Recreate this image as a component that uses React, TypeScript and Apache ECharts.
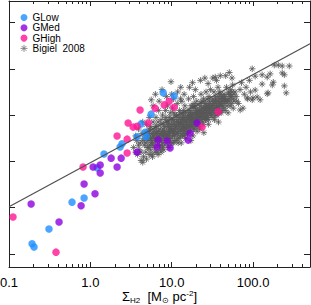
import React, { useEffect, useRef } from "react";
import * as echarts from "echarts";

const FONT = "'Liberation Sans', Arial, Helvetica, sans-serif";

// Sigma_H2 [Msun pc^-2], log Sigma_SFR (arbitrary tick units)
const gLow: [number, number][] = [
  [7.84, 3.48], [10.7, 3.41], [5.58, 3.02], [4.2, 2.81], [4.71, 2.63], [4.84, 2.53],
  [3.75, 2.53], [2.45, 2.38], [2.32, 2.31], [1.47, 2.16], [1.21, 1.86], [0.837, 1.21],
  [0.595, 1.12], [0.31, 0.54], [0.192, 0.22], [0.203, 0.15],
];

const gMed: [number, number][] = [
  [3.75, 2.2], [1.8, 2.07], [2.39, 2.07], [1.08, 1.88], [1.32, 1.92], [2.13, 1.88],
  [1.32, 1.75], [0.837, 1.51], [1.14, 1.3], [0.769, 1.04], [0.187, 1.08], [0.412, 0.69],
  [6.8, 2.46], [6.61, 2.31], [8.78, 2.44], [9.55, 2.29], [20.5, 2.83], [16.8, 2.61],
  [15.9, 2.46],
];

const gHigh: [number, number][] = [
  [4.08, 3.11], [6.25, 3.15], [8.07, 3.22], [9.29, 3.3], [10.7, 3.17], [2.91, 2.83],
  [3.35, 2.74], [3.75, 2.76], [5.13, 2.83], [2.13, 2.55], [2.83, 2.48], [2.83, 2.18],
  [0.813, 1.88], [0.112, 0.8], [0.378, 0.04], [37.2, 3.07], [23.6, 2.74],
];

// Bigiel et al. 2008 pixels: outer / sparse part of the cloud
const bigielOuter: [number, number][] = [
  [3.4, 2.3], [3.6, 2.55], [3.8, 2.15], [3.9, 2.7], [4.1, 2.4], [4.2, 2.02], [4.3, 2.6], [4.4, 2.85], [3.7, 2.45], [4.0, 2.25],
  [4.6, 2.35], [4.7, 2.6], [4.8, 2.2], [4.9, 2.8], [5.0, 2.45], [5.1, 2.65], [5.2, 2.3], [5.3, 2.95], [5.4, 2.5], [5.5, 2.75],
  [5.6, 2.4], [5.7, 2.15], [5.8, 2.6], [5.9, 2.85], [5.6, 3.33], [5.9, 3.2],
  [6.1, 2.5], [6.2, 2.3], [6.3, 2.75], [6.4, 2.95], [6.5, 2.6], [6.6, 2.2], [6.7, 2.45], [6.8, 2.85], [6.9, 3.1], [7.0, 2.55],
  [7.1, 2.35], [7.2, 2.7], [7.3, 2.25], [7.4, 2.9], [7.5, 2.6], [7.7, 3.0], [7.8, 2.4], [7.9, 2.8], [6.3, 3.45], [7.0, 3.3], [7.6, 3.55],
  [8.1, 2.65], [8.2, 2.35], [8.3, 2.9], [8.4, 3.1], [8.5, 2.55], [8.7, 2.75], [8.8, 2.45], [8.9, 3.2], [9.0, 2.85], [9.1, 2.6],
  [9.3, 2.3], [9.4, 2.95], [9.5, 2.7], [9.6, 3.05], [9.8, 2.5], [9.9, 2.8], [10.1, 2.4], [10.2, 3.15], [10.4, 2.65], [10.6, 2.9],
  [10.8, 2.55], [10.9, 3.0], [8.6, 3.4], [9.8, 3.72], [10.0, 3.45], [10.5, 3.35],
  [11.1, 2.75], [11.3, 2.45], [11.5, 3.0], [11.7, 3.25], [11.9, 2.6], [12.1, 2.85], [12.3, 2.5], [12.5, 3.1], [12.7, 2.95], [12.9, 2.7],
  [13.1, 2.4], [13.3, 3.3], [13.5, 2.8], [13.7, 2.55], [13.9, 3.05], [14.1, 2.9], [14.3, 2.65], [14.5, 3.2], [14.7, 2.75], [14.9, 2.5],
  [11.6, 2.9], [12.8, 3.35], [13.8, 2.95], [14.4, 2.6], [11.8, 3.5], [12.9, 3.6], [14.2, 3.45],
  [15.2, 2.85], [15.5, 2.6], [15.8, 3.1], [16.1, 3.35], [16.4, 2.75], [16.7, 2.95], [17.0, 2.65], [17.3, 3.2], [17.6, 3.05], [17.9, 2.8],
  [18.2, 2.55], [18.5, 3.4], [18.8, 2.9], [19.1, 2.7], [19.4, 3.15], [19.7, 3.0], [20.0, 2.75], [20.3, 3.3], [20.6, 2.85], [20.9, 3.05],
  [16.0, 3.0], [17.5, 2.9], [18.9, 3.25], [20.5, 2.65], [16.5, 3.6], [18.0, 3.7], [19.5, 3.55], [17.2, 2.45],
  [21.3, 2.95], [21.8, 2.75], [22.4, 3.25], [22.9, 3.45], [23.5, 3.05], [24.0, 2.85], [24.6, 3.35], [25.2, 3.15], [25.8, 2.9], [26.4, 3.5],
  [27.0, 3.0], [27.6, 3.2], [28.2, 2.8], [28.8, 3.4], [29.4, 3.1], [29.9, 3.55], [22.0, 3.1], [23.1, 2.9], [24.4, 3.15], [26.0, 3.25],
  [27.3, 2.95], [29.0, 3.3], [22.5, 3.75], [25.5, 3.8], [28.0, 3.68], [24.8, 2.62],
  [30.5, 3.05], [31.3, 3.3], [32.2, 2.95], [33.1, 3.5], [34.0, 3.15], [35.0, 3.4], [36.0, 3.0], [37.0, 3.6], [38.0, 3.25], [39.0, 3.1],
  [40.0, 3.45], [41.0, 3.3], [31.8, 3.2], [34.5, 3.35], [36.8, 3.15], [38.5, 3.5], [40.5, 3.05], [33.5, 2.9], [32.0, 3.8], [35.5, 3.75],
  [39.5, 3.85], [37.5, 2.85], [34.2, 3.82],
  [42.5, 3.2], [44.0, 3.45], [45.5, 3.1], [47.0, 3.6], [48.5, 3.3], [50.0, 3.5], [52.0, 3.2], [54.0, 3.4], [56.0, 3.65], [58.0, 3.3],
  [44.8, 3.35], [49.2, 3.05], [53.0, 3.55], [57.0, 3.15], [46.0, 3.85], [51.0, 3.92], [55.0, 3.8],
  [62, 3.4], [66, 3.25], [69, 3.55], [72, 3.7], [75, 3.15], [78, 3.45], [82, 3.6], [86, 3.35], [90, 3.75], [93, 3.5], [69.3, 3.11],
  [97.5, 4.0], [182, 4.08], [204, 4.08], [228, 4.06], [278, 4.06], [228, 3.91], [242, 3.87], [162, 3.89], [149, 3.82], [129, 3.87],
  [106, 3.84], [177, 3.71], [129, 3.67], [172, 3.65], [242, 3.63], [255, 3.48], [153, 3.48], [149, 3.46], [106, 3.54], [112, 3.39],
  [97.5, 3.33], [84.5, 3.37], [122, 3.33], [99.6, 3.37],
];

// Bigiel et al. 2008 pixels: dense core of the cloud
const bigielCore: [number, number][] = [
  [4.6, 2.5], [4.8, 2.4], [5.0, 2.6], [5.2, 2.5], [5.4, 2.35], [5.5, 2.6], [5.7, 2.5], [5.9, 2.7], [5.0, 2.3], [5.3, 2.7],
  [6.0, 2.4], [6.2, 2.6], [6.4, 2.5], [6.5, 2.75], [6.7, 2.35], [6.9, 2.65], [7.1, 2.5], [7.3, 2.8], [7.5, 2.45], [7.7, 2.65],
  [7.9, 2.55], [6.8, 2.55], [7.4, 2.35], [6.1, 2.65],
  [8.0, 2.5], [8.2, 2.75], [8.4, 2.6], [8.6, 2.45], [8.8, 2.85], [9.0, 2.55], [9.2, 2.75], [9.4, 2.5], [9.7, 2.65], [9.9, 2.9],
  [10.2, 2.55], [10.4, 2.8], [10.7, 2.7], [10.9, 2.45], [8.5, 2.95], [9.6, 2.4], [10.0, 2.7], [10.6, 3.05],
  [11.2, 2.6], [11.4, 2.85], [11.7, 2.7], [12.0, 2.95], [12.2, 2.65], [12.5, 2.8], [12.8, 2.55], [13.0, 2.9], [13.3, 2.7], [13.6, 3.0],
  [13.9, 2.75], [14.2, 2.55], [14.6, 2.85], [14.8, 3.05], [11.9, 2.5], [12.6, 3.05], [13.4, 2.6], [14.0, 3.1], [14.5, 2.7],
  [15.1, 2.75], [15.4, 2.95], [15.7, 2.8], [16.0, 2.65], [16.3, 3.05], [16.6, 2.85], [16.9, 3.1], [17.2, 2.75], [17.6, 2.95], [17.9, 3.2],
  [18.3, 2.85], [18.7, 3.05], [19.0, 2.8], [19.4, 2.95], [19.8, 3.2], [20.2, 2.9], [20.6, 3.1], [20.9, 2.8], [15.6, 2.6], [17.0, 3.0],
  [18.5, 2.7], [19.6, 3.05], [16.2, 2.9],
  [21.2, 3.05], [21.7, 2.85], [22.2, 3.2], [22.7, 2.95], [23.2, 3.15], [23.8, 3.0], [24.3, 2.8], [24.9, 3.25], [25.5, 3.05], [26.1, 2.9],
  [26.7, 3.15], [27.3, 3.35], [27.9, 3.05], [28.5, 2.9], [29.1, 3.2], [29.7, 3.0], [22.0, 2.7], [25.0, 2.95], [27.0, 3.1], [28.9, 3.05],
  [23.5, 3.3],
  [30.2, 3.15], [31.0, 3.0], [31.9, 3.35], [32.8, 3.1], [33.8, 3.25], [34.8, 3.0], [35.8, 3.3], [36.9, 3.2], [38.0, 3.05], [39.2, 3.35],
  [40.4, 3.2], [41.6, 3.1], [42.8, 3.4], [44.0, 3.25], [35.2, 3.15], [37.6, 3.4], [43.5, 3.15],
  [46, 3.3], [48, 3.2], [50, 3.35], [52, 3.45], [54, 3.25], [57, 3.35], [60, 3.5], [63, 3.3],
];

// Bigiel et al. 2008 pixels: densest ridge of the cloud
const bigielRidge: [number, number][] = [
  [5.1, 2.55], [5.6, 2.45], [6.0, 2.55], [6.3, 2.45], [6.6, 2.65], [7.0, 2.45], [7.2, 2.6], [7.6, 2.55], [7.8, 2.7], [5.8, 2.35],
  [8.1, 2.6], [8.3, 2.5], [8.7, 2.65], [8.9, 2.55], [9.1, 2.8], [9.3, 2.65], [9.5, 2.6], [9.8, 2.75], [10.1, 2.65], [10.3, 2.9],
  [10.5, 2.6], [10.8, 2.8],
  [11.0, 2.65], [11.3, 2.75], [11.6, 2.6], [11.9, 2.8], [12.3, 2.75], [12.7, 2.85], [13.0, 2.65], [13.2, 2.8], [13.5, 2.9], [13.8, 2.7],
  [14.1, 2.8], [14.4, 2.95], [14.8, 2.7],
  [15.0, 2.9], [15.3, 2.7], [15.8, 2.95], [16.2, 2.75], [16.5, 2.95], [16.8, 2.8], [17.3, 2.9], [17.7, 2.75], [18.1, 3.0], [18.4, 2.95],
  [18.8, 3.15], [19.2, 2.9], [19.7, 2.85], [20.1, 3.05], [20.4, 2.95], [20.8, 2.95],
  [21.5, 3.1], [21.9, 2.95], [22.4, 3.05], [23.0, 3.05], [23.6, 2.95], [24.1, 3.1], [24.7, 3.05], [25.3, 2.95], [25.9, 3.15], [26.5, 3.05],
  [27.1, 3.2], [27.7, 2.95], [28.3, 3.15], [28.9, 3.25], [29.5, 3.1],
  [30.8, 3.2], [31.6, 3.1], [32.5, 3.25], [33.4, 3.05], [34.3, 3.3], [35.4, 3.2], [36.4, 3.1], [37.4, 3.3], [38.6, 3.2], [39.8, 3.25],
  [41.0, 3.4], [42.2, 3.3], [43.8, 3.35],
  [45, 3.4], [47, 3.3], [49, 3.45], [51, 3.3], [53, 3.4], [55, 3.5], [58, 3.45],
];

// Bigiel et al. 2008 pixels: low lower-left edge of the cloud
const bigielLowEdge: [number, number][] = [
  [4.5, 2.1], [4.9, 2.05], [5.3, 2.15], [5.8, 2.1], [6.2, 2.2], [6.8, 2.15], [7.4, 2.2], [4.2, 2.2], [3.9, 2.35],
  [4.4, 2.45], [3.6, 2.2], [5.5, 2.25], [8.0, 2.25], [9.0, 2.35], [7.7, 2.3], [10.4, 2.4], [12.0, 2.4], [4.4, 1.98],
];

const bigiel2008: [number, number][] = [...bigielOuter, ...bigielCore, ...bigielRidge, ...bigielLowEdge];

const fitLine: [number, number][] = [[0.1, 1.02], [500, 4.54]];

const xMin = 0.1;
const xMax = 500;
const yMin = -0.281;
const yMax = 5.464;
const majorXTicks = [0.1, 1, 10, 100];
const minorXTicks = [
  0.2, 0.3, 0.4, 0.5, 0.6, 0.7, 0.8, 0.9,
  2, 3, 4, 5, 6, 7, 8, 9,
  20, 30, 40, 50, 60, 70, 80, 90,
  200, 300, 400,
];
const yTicks = [0, 1, 2, 3, 4, 5];

const ASTERISK = "path://M5 0V10M0 5H10M1.5 1.5L8.5 8.5M8.5 1.5L1.5 8.5";
const AXIS_COLOR = "#222";
const CLOUD = "#575757";

export default function App() {
  const ref = useRef<HTMLDivElement>(null);
  useEffect(() => {
    if (!ref.current) return;
    const chart = echarts.init(ref.current, undefined, { renderer: "svg" });
    const logMin = Math.log10(xMin);
    const logMax = Math.log10(xMax);
    const hiddenAxisBase = {
      type: "value",
      min: logMin,
      max: logMax,
      axisLabel: { show: false },
      splitLine: { show: false },
    };
    chart.setOption({
      animation: false,
      backgroundColor: "#fff",
      grid: { left: 9, right: 1, top: 1, bottom: 38, containLabel: false, outerBoundsMode: "none" },
      legend: {
        orient: "vertical",
        left: 20,
        top: 12.5,
        padding: 0,
        itemWidth: 7,
        itemHeight: 7,
        itemGap: 0.3,
        textStyle: { fontSize: 10, color: "#000", fontFamily: FONT, lineHeight: 9 },
        data: [
          { name: "GLow", icon: "circle" },
          { name: "GMed", icon: "circle" },
          { name: "GHigh", icon: "circle" },
          {
            name: "Bigiel  2008",
            icon: ASTERISK,
            itemStyle: { color: "rgba(0,0,0,0)", borderColor: "#707070", borderWidth: 1 },
          },
        ],
      },
      xAxis: [
        {
          type: "log",
          logBase: 10,
          min: xMin,
          max: xMax,
          position: "bottom",
          axisLine: { show: true, onZero: false, lineStyle: { color: AXIS_COLOR, width: 1 } },
          axisTick: { show: true, inside: true, length: 5, lineStyle: { color: AXIS_COLOR } },
          axisLabel: {
            show: true,
            margin: 9,
            fontSize: 13,
            color: "#000",
            fontFamily: FONT,
            showMaxLabel: false,
            formatter: (v: number) => {
              const l = Math.log10(v);
              if (Math.abs(l - Math.round(l)) > 1e-6) return "";
              return Math.pow(10, Math.round(l)).toFixed(1);
            },
          },
          splitLine: { show: false },
          name: "{s|Σ}{sub|H2}{s|  [M}{sub|⊙}{s| pc}{sup|-2}{s|]}",
          nameLocation: "middle",
          nameGap: 22,
          nameMoveOverlap: false,
          nameTextStyle: {
            color: "#000",
            fontFamily: FONT,
            fontSize: 13,
            verticalAlign: "top",
            rich: {
              s: { fontSize: 13, lineHeight: 15, color: "#000", fontFamily: FONT },
              sub: { fontSize: 8, lineHeight: 8, verticalAlign: "bottom", color: "#000", fontFamily: FONT },
              sup: { fontSize: 8, lineHeight: 8, verticalAlign: "top", color: "#000", fontFamily: FONT },
            },
          },
        },
        {
          ...hiddenAxisBase,
          position: "bottom",
          axisLine: { show: false, onZero: false },
          axisTick: { show: true, inside: true, length: 3, customValues: minorXTicks.map((v) => Math.log10(v)), lineStyle: { color: AXIS_COLOR } },
        },
        {
          ...hiddenAxisBase,
          position: "top",
          axisLine: { show: true, onZero: false, lineStyle: { color: AXIS_COLOR, width: 1 } },
          axisTick: { show: true, inside: true, length: 5, customValues: majorXTicks.map((v) => Math.log10(v)), lineStyle: { color: AXIS_COLOR } },
        },
        {
          ...hiddenAxisBase,
          position: "top",
          axisLine: { show: false, onZero: false },
          axisTick: { show: true, inside: true, length: 3, customValues: minorXTicks.map((v) => Math.log10(v)), lineStyle: { color: AXIS_COLOR } },
        },
      ],
      yAxis: [
        {
          type: "value",
          min: yMin,
          max: yMax,
          position: "left",
          axisLine: { show: true, onZero: false, lineStyle: { color: AXIS_COLOR, width: 1 } },
          axisTick: { show: true, inside: true, length: 6, customValues: yTicks, lineStyle: { color: AXIS_COLOR } },
          axisLabel: { show: false },
          splitLine: { show: false },
        },
        {
          type: "value",
          min: yMin,
          max: yMax,
          position: "right",
          axisLine: { show: true, onZero: false, lineStyle: { color: AXIS_COLOR, width: 1 } },
          axisTick: { show: true, inside: true, length: 6, customValues: yTicks, lineStyle: { color: AXIS_COLOR } },
          axisLabel: { show: false },
          splitLine: { show: false },
        },
      ],
      series: [
        {
          name: "Bigiel  2008",
          type: "scatter",
          xAxisIndex: 0,
          yAxisIndex: 0,
          symbol: ASTERISK,
          symbolSize: 6.5,
          itemStyle: { color: "rgba(0,0,0,0)", borderColor: CLOUD, borderWidth: 1 },
          data: bigiel2008,
          z: 2,
        },
        {
          name: "GLow",
          type: "scatter",
          xAxisIndex: 0,
          yAxisIndex: 0,
          symbol: "circle",
          symbolSize: 7.5,
          itemStyle: { color: "#1e8fff" },
          data: gLow,
          z: 3,
        },
        {
          name: "GMed",
          type: "scatter",
          xAxisIndex: 0,
          yAxisIndex: 0,
          symbol: "circle",
          symbolSize: 7.5,
          itemStyle: { color: "#8f00e0" },
          data: gMed,
          z: 3,
        },
        {
          name: "GHigh",
          type: "scatter",
          xAxisIndex: 0,
          yAxisIndex: 0,
          symbol: "circle",
          symbolSize: 7.5,
          itemStyle: { color: "#ff1493" },
          data: gHigh,
          z: 3,
        },
        {
          name: "fit",
          type: "line",
          xAxisIndex: 0,
          yAxisIndex: 0,
          data: fitLine,
          symbol: "none",
          lineStyle: { color: "#505050", width: 1.2 },
          z: 4,
        },
      ],
    });
    return () => chart.dispose();
  }, []);
  return (
    <div
      ref={ref}
      style={{ position: "absolute", left: 0, top: 0, width: 311, height: 305 }}
    />
  );
}
